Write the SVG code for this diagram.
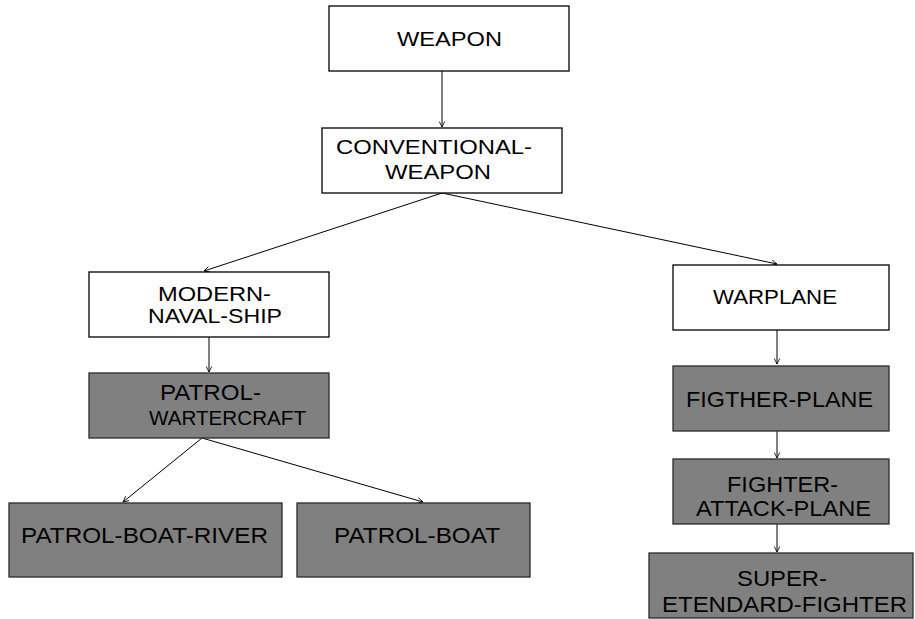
<svg xmlns="http://www.w3.org/2000/svg" width="915" height="619" viewBox="0 0 915 619">
  <defs>
    <marker id="arrow" viewBox="0 0 10 10" refX="9" refY="5" markerWidth="7" markerHeight="7" markerUnits="userSpaceOnUse" orient="auto">
      <path d="M1,1 L9,5 L1,9" fill="none" stroke="#000" stroke-width="1.2"/>
    </marker>
    <style>
      .plain { fill: #ffffff; stroke: #000000; stroke-width: 1.3; }
      .leaf { fill: #808080; stroke: #2a2a2a; stroke-width: 1.3; }
      .label { font-family: "Liberation Sans", Arial, sans-serif; font-size: 21px; fill: #000000; }
      .big { font-size: 22px; }
      .edge { stroke: #000000; stroke-width: 1; fill: none; marker-end: url(#arrow); }
    </style>
  </defs>
  <rect width="915" height="619" fill="#ffffff"/>

  <g id="connectors">
    <line class="edge" x1="442" y1="71" x2="442" y2="127"/>
    <line class="edge" x1="442" y1="193" x2="204" y2="271"/>
    <line class="edge" x1="442" y1="193" x2="777" y2="264"/>
    <line class="edge" x1="209" y1="337" x2="209" y2="372"/>
    <line class="edge" x1="202" y1="438" x2="123" y2="502"/>
    <line class="edge" x1="202" y1="438" x2="423" y2="502"/>
    <line class="edge" x1="777" y1="330" x2="777" y2="364"/>
    <line class="edge" x1="777" y1="431" x2="777" y2="458"/>
    <line class="edge" x1="777" y1="524" x2="777" y2="552"/>
  </g>

  <g id="weapon">
    <rect class="plain" x="329" y="6" width="240" height="65"/>
    <text class="label" x="397" y="46" textLength="105" lengthAdjust="spacingAndGlyphs">WEAPON</text>
  </g>

  <g id="conventional-weapon">
    <rect class="plain" x="322" y="128" width="240" height="65"/>
    <text class="label" x="336" y="154" textLength="196" lengthAdjust="spacingAndGlyphs">CONVENTIONAL-</text>
    <text class="label" x="385" y="179" textLength="106" lengthAdjust="spacingAndGlyphs">WEAPON</text>
  </g>

  <g id="modern-naval-ship">
    <rect class="plain" x="89" y="272" width="240" height="65"/>
    <text class="label" x="158" y="301" textLength="113" lengthAdjust="spacingAndGlyphs">MODERN-</text>
    <text class="label" x="148" y="323" textLength="134" lengthAdjust="spacingAndGlyphs">NAVAL-SHIP</text>
  </g>

  <g id="patrol-watercraft">
    <rect class="leaf" x="89" y="373" width="240" height="65"/>
    <text class="label big" x="160" y="400" textLength="101" lengthAdjust="spacingAndGlyphs">PATROL-</text>
    <text class="label" x="149" y="425" textLength="157" lengthAdjust="spacingAndGlyphs">WARTERCRAFT</text>
  </g>

  <g id="patrol-boat-river">
    <rect class="leaf" x="9" y="503" width="273" height="74"/>
    <text class="label big" x="21" y="543" textLength="247" lengthAdjust="spacingAndGlyphs">PATROL-BOAT-RIVER</text>
  </g>

  <g id="patrol-boat">
    <rect class="leaf" x="297" y="503" width="233" height="74"/>
    <text class="label big" x="334" y="543" textLength="166" lengthAdjust="spacingAndGlyphs">PATROL-BOAT</text>
  </g>

  <g id="warplane">
    <rect class="plain" x="673" y="265" width="216" height="65"/>
    <text class="label" x="713" y="304" textLength="124" lengthAdjust="spacingAndGlyphs">WARPLANE</text>
  </g>

  <g id="fighter-plane">
    <rect class="leaf" x="673" y="366" width="216" height="65"/>
    <text class="label big" x="686" y="407" textLength="187" lengthAdjust="spacingAndGlyphs">FIGTHER-PLANE</text>
  </g>

  <g id="fighter-attack-plane">
    <rect class="leaf" x="673" y="459" width="216" height="65"/>
    <text class="label big" x="727" y="492" textLength="111" lengthAdjust="spacingAndGlyphs">FIGHTER-</text>
    <text class="label big" x="696" y="516" textLength="175" lengthAdjust="spacingAndGlyphs">ATTACK-PLANE</text>
  </g>

  <g id="super-etendard-fighter">
    <rect class="leaf" x="649" y="553" width="264" height="65"/>
    <text class="label big" x="737" y="586" textLength="90" lengthAdjust="spacingAndGlyphs">SUPER-</text>
    <text class="label big" x="662" y="612" textLength="245" lengthAdjust="spacingAndGlyphs">ETENDARD-FIGHTER</text>
  </g>
</svg>
